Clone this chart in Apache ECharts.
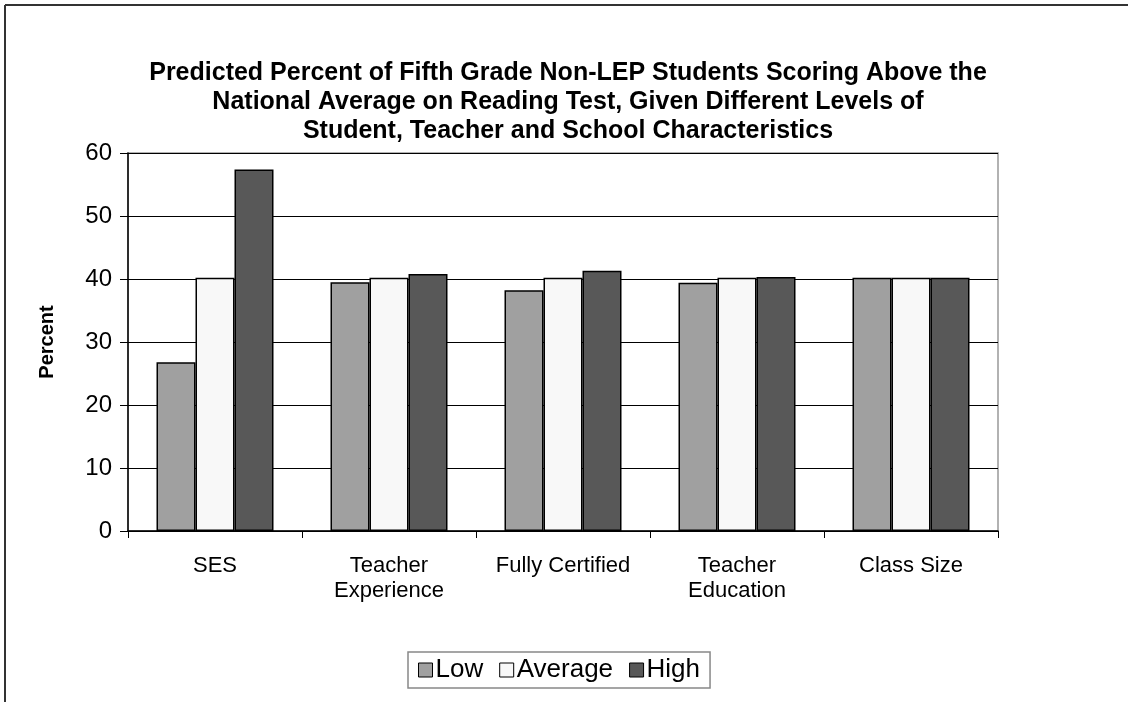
<!DOCTYPE html>
<html>
<head>
<meta charset="utf-8">
<script src="https://cdn.jsdelivr.net/npm/echarts@6/dist/echarts.min.js"></script>
<style>html,body{margin:0;padding:0;background:#fff}#c{width:1128px;height:702px}</style>
</head>
<body>
<div id="c"></div>
<script>
const categories = ['SES', 'Teacher\nExperience', 'Fully Certified', 'Teacher\nEducation', 'Class Size'];
const lowValues = [26.8, 39.5, 38.2, 39.4, 40.2];
const averageValues = [40.2, 40.2, 40.2, 40.2, 40.2];
const highValues = [57.4, 40.8, 41.3, 40.3, 40.2];
const yTicks = [0, 10, 20, 30, 40, 50, 60];

const chart = echarts.init(document.getElementById('c'), null, {renderer: 'canvas'});
const F = '"Liberation Sans", Arial, sans-serif';
function bar(name, data, color) {
  return {
    name: name, type: 'bar', data: data, barWidth: 39, barGap: '0%',
    itemStyle: {color: color, borderColor: '#000', borderWidth: 1.5},
    emphasis: {disabled: true}
  };
}
chart.setOption({
  animation: false,
  backgroundColor: '#fff',
  title: {
    text: 'Predicted Percent of Fifth Grade Non-LEP Students Scoring Above the\nNational Average on Reading Test, Given Different Levels of\nStudent, Teacher and School Characteristics',
    left: 563, top: 54, textAlign: 'center',
    textStyle: {fontFamily: F, fontSize: 25, fontWeight: 'bold', color: '#000', lineHeight: 29}
  },
  grid: {left: 128, top: 153, right: 130, bottom: 171, show: true, borderColor: '#999', borderWidth: 1.5, containLabel: false},
  legend: {
    data: ['Low', 'Average', 'High'],
    left: 408, top: 652,
    itemWidth: 14, itemHeight: 14, itemGap: 16, icon: 'rect',
    padding: [5, 10, 5, 10],
    borderColor: '#888', borderWidth: 1.5, borderRadius: 0,
    itemStyle: {borderColor: '#000', borderWidth: 1},
    textStyle: {fontFamily: F, fontSize: 26, color: '#000', padding: [0, 0, 0, -2]}
  },
  xAxis: {
    type: 'category', data: categories,
    axisLine: {lineStyle: {color: '#000', width: 1.5}},
    axisTick: {show: true, length: 7, lineStyle: {color: '#000', width: 1}},
    axisLabel: {fontFamily: F, fontSize: 22, color: '#000', margin: 22, lineHeight: 25, interval: 0}
  },
  yAxis: {
    type: 'value', min: yTicks[0], max: yTicks[yTicks.length - 1], interval: 10,
    name: 'Percent', nameLocation: 'middle', nameGap: 71, nameRotate: 90,
    nameTextStyle: {fontFamily: F, fontSize: 20, fontWeight: 'bold', color: '#000'},
    axisLine: {show: true, lineStyle: {color: '#000', width: 1.5}},
    axisTick: {show: true, length: 8, lineStyle: {color: '#000', width: 1}},
    axisLabel: {fontFamily: F, fontSize: 24, color: '#000', margin: 16},
    splitLine: {show: true, lineStyle: {color: '#000', width: 1}}
  },
  series: [
    bar('Low', lowValues, '#a0a0a0'),
    bar('Average', averageValues, '#f8f8f8'),
    bar('High', highValues, '#585858')
  ],
  graphic: [
    {type: 'line', shape: {x1: 5, y1: 5, x2: 1128, y2: 5}, style: {stroke: '#333', lineWidth: 2}, silent: true},
    {type: 'line', shape: {x1: 5, y1: 5, x2: 5, y2: 702}, style: {stroke: '#333', lineWidth: 2}, silent: true}
  ]
});
</script>
</body>
</html>
